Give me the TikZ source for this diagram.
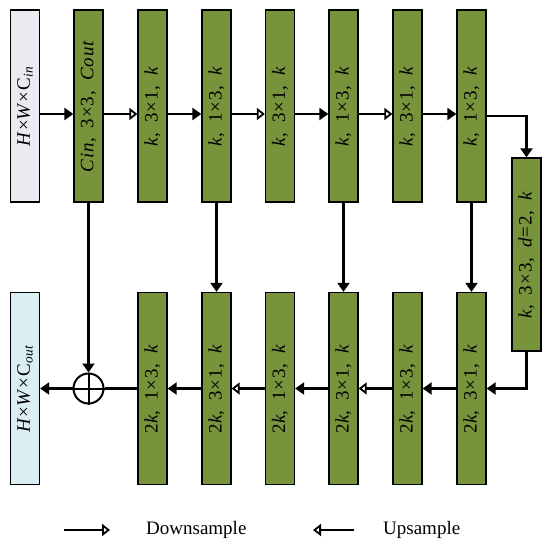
\documentclass[tikz,border=0pt]{standalone}
\usepackage{fontspec}
\setmainfont{Liberation Serif}
\usetikzlibrary{arrows.meta}
\definecolor{gfill}{RGB}{119,147,60}
\definecolor{infill}{RGB}{236,233,241}
\definecolor{outfill}{RGB}{218,238,243}
\newcommand{\rl}[1]{\rotatebox{90}{\fontsize{19}{22}\selectfont\addfontfeature{LetterSpace=5}#1}}
\newcommand{\gsp}{\hspace{10pt}}
\begin{document}
\begin{tikzpicture}[x=1pt,y=-1pt,
  box/.style={draw=black,line width=1.3pt,minimum width=29pt,minimum height=192pt,inner sep=0pt},
  gbox/.style={box,fill=gfill},
  conn/.style={line width=2.1pt},
  fa/.style={conn,-{Triangle[length=9pt,width=12pt]}},
  oa/.style={conn,-{Triangle[open,length=8pt,width=12pt,line width=1.8pt,fill=white]}}]
\useasboundingbox (0,0) rectangle (550,546);
% top row
\node[box,fill=infill] (in) at (25,106) {\rl{\textit{H}×\textit{W}×C\textsubscript{\textit{in}}}};
\node[gbox] (t2) at (88.5,106) {\rl{\textit{Cin},\gsp3×3,\gsp\textit{Cout}}};
\node[gbox] (t3) at (152.5,106) {\rl{\textit{k},\gsp3×1,\gsp\textit{k}}};
\node[gbox] (t4) at (216.5,106) {\rl{\textit{k},\gsp1×3,\gsp\textit{k}}};
\node[gbox] (t5) at (280,106) {\rl{\textit{k},\gsp3×1,\gsp\textit{k}}};
\node[gbox] (t6) at (343.5,106) {\rl{\textit{k},\gsp1×3,\gsp\textit{k}}};
\node[gbox] (t7) at (407.5,106) {\rl{\textit{k},\gsp3×1,\gsp\textit{k}}};
\node[gbox] (t8) at (471.5,106) {\rl{\textit{k},\gsp1×3,\gsp\textit{k}}};
\node[gbox,minimum height=193pt] (dil) at (526.5,254.5) {\rl{\textit{k},\gsp3×3,\gsp\textit{d}=2,\gsp\textit{k}}};
% bottom row
\node[box,fill=outfill] (out) at (25,388.5) {\rl{\textit{H}×\textit{W}×C\textsubscript{\textit{out}}}};
\node[gbox] (b3) at (152.5,388.5) {\rl{2\textit{k},\gsp1×3,\gsp\textit{k}}};
\node[gbox] (b4) at (216.5,388.5) {\rl{2\textit{k},\gsp3×1,\gsp\textit{k}}};
\node[gbox] (b5) at (280,388.5) {\rl{2\textit{k},\gsp1×3,\gsp\textit{k}}};
\node[gbox] (b6) at (343.5,388.5) {\rl{2\textit{k},\gsp3×1,\gsp\textit{k}}};
\node[gbox] (b7) at (407.5,388.5) {\rl{2\textit{k},\gsp1×3,\gsp\textit{k}}};
\node[gbox] (b8) at (471.5,388.5) {\rl{2\textit{k},\gsp3×1,\gsp\textit{k}}};
\node[draw,circle,line width=2pt,minimum size=30pt,inner sep=0pt] (sum) at (88.5,388.5) {};
\draw[line width=2pt] (sum.north) -- (sum.south) (sum.west) -- (sum.east);
% top connectors
\draw[fa] ([yshift=-8pt]in.east) -- ([yshift=-8pt]t2.west);
\draw[oa] ([yshift=-8pt]t2.east) -- ([yshift=-8pt]t3.west);
\draw[fa] ([yshift=-8pt]t3.east) -- ([yshift=-8pt]t4.west);
\draw[oa] ([yshift=-8pt]t4.east) -- ([yshift=-8pt]t5.west);
\draw[fa] ([yshift=-8pt]t5.east) -- ([yshift=-8pt]t6.west);
\draw[oa] ([yshift=-8pt]t6.east) -- ([yshift=-8pt]t7.west);
\draw[fa] ([yshift=-8pt]t7.east) -- ([yshift=-8pt]t8.west);
\draw[fa] ([yshift=-10pt]t8.east) -| (dil.north);
% bottom connectors
\draw[fa] (dil.south) |- (b8.east);
\draw[fa] (b8.west) -- (b7.east);
\draw[oa] (b7.west) -- (b6.east);
\draw[fa] (b6.west) -- (b5.east);
\draw[oa] (b5.west) -- (b4.east);
\draw[fa] (b4.west) -- (b3.east);
\draw[conn] (b3.west) -- (sum.east);
\draw[fa] (sum.west) -- (out.east);
% skip connections
\draw[fa] (t2.south) -- (sum.north);
\draw[fa] (t4.south) -- (b4.north);
\draw[fa] (t6.south) -- (b6.north);
\draw[fa] (t8.south) -- (b8.north);
% legend
\coordinate (l1a) at (64,530);
\coordinate (l1b) at (110,530);
\coordinate (l2a) at (354,530);
\coordinate (l2b) at (313,530);
\draw[oa] (l1a) -- (l1b);
\draw[oa] (l2a) -- (l2b);
\node[anchor=west,font=\fontsize{19}{22}\selectfont,inner sep=0pt] (ld) at (146,530) {Downsample};
\node[anchor=west,font=\fontsize{19}{22}\selectfont,inner sep=0pt] (lu) at (383,530) {Upsample};
\end{tikzpicture}
\end{document}
